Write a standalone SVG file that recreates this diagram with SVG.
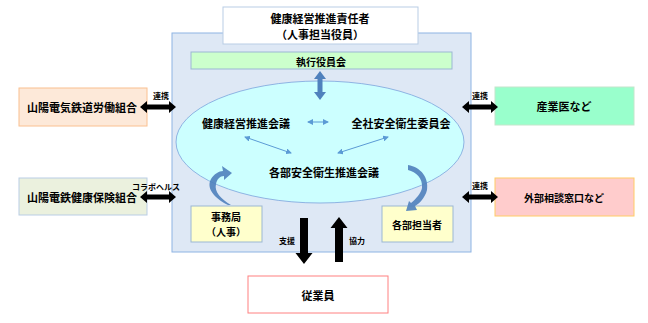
<svg xmlns="http://www.w3.org/2000/svg" width="648" height="323" viewBox="0 0 648 323">
<defs>
<style>
text{font-family:"Noto Sans CJK JP","Noto Sans",sans-serif;fill:#000;text-anchor:middle;dominant-baseline:central}
.b{font-size:11px;font-weight:bold}
.s{font-size:8px;font-weight:bold}
.m{font-size:10px;font-weight:bold}
.thin{stroke:#5b9bd5;stroke-width:1;fill:none}
</style>
<marker id="ah" markerWidth="6" markerHeight="6" refX="5" refY="3" orient="auto-start-reverse" markerUnits="userSpaceOnUse">
<path d="M0,0 L6,3 L0,6 Z" fill="#5b9bd5"/>
</marker>
</defs>
<rect width="648" height="323" fill="#fff"/>
<g id="main">
<rect x="172" y="33" width="299" height="219" fill="#dee8f5" stroke="#8eb4e3" stroke-width="1"/>
</g>
<g id="top">
<rect x="223" y="7" width="195" height="37" fill="#fff" stroke="#b9cde5"/>
<text class="b" x="320" y="17.5">健康経営推進責任者</text>
<text class="b" x="320" y="33.5">（人事担当役員）</text>
</g>
<g id="exec">
<rect x="191" y="52" width="261" height="17" fill="#ccffcc" stroke="#9bb7d4"/>
<text class="m" x="321" y="61">執行役員会</text>
</g>
<g id="council">
<ellipse cx="320" cy="142" rx="144" ry="61" fill="#ccffff" stroke="#8eb4e3"/>
<text class="b" x="246" y="123">健康経営推進会議</text>
<text class="b" x="401" y="123">全社安全衛生委員会</text>
<text class="b" x="324" y="172">各部安全衛生推進会議</text>
</g>
<g id="jimu">
<rect x="191" y="206" width="71" height="36" fill="#ffffcc" stroke="#9bb7d4"/>
<text class="m" x="226" y="216.5">事務局</text>
<text class="m" x="226" y="231.5">（人事）</text>
</g>
<g id="kakubu">
<rect x="382" y="206" width="71" height="36" fill="#ffffcc" stroke="#9bb7d4"/>
<text class="m" x="417" y="224">各部担当者</text>
</g>
<g id="jugyoin">
<rect x="248" y="276" width="140" height="37" fill="#fff" stroke="#ff8080"/>
<text class="b" x="318" y="295">従業員</text>
</g>
<g id="union">
<rect x="19" y="88" width="128" height="38" fill="#fde9d9" stroke="#fac090"/>
<text class="b" x="82" y="107">山陽電気鉄道労働組合</text>
</g>
<g id="kenpo">
<rect x="19" y="178" width="128" height="37" fill="#ebf1de" stroke="#b9cde5"/>
<text class="b" x="82" y="197">山陽電鉄健康保険組合</text>
</g>
<g id="sangyoi">
<rect x="495" y="87" width="139" height="38" fill="#99ffcc" stroke="#c3e6cb"/>
<text class="b" x="564" y="106">産業医など</text>
</g>
<g id="gaibu">
<rect x="495" y="178" width="139" height="38" fill="#ffcccc" stroke="#ffcc66"/>
<text class="m" x="564" y="197">外部相談窓口など</text>
</g>
<g id="connectors">
<path d="M320,71 L326,79 L322.5,79 L322.5,92 L326,92 L320,100 L314,92 L317.5,92 L317.5,79 L314,79 Z" fill="#4f81bd"/>
<line class="thin" x1="308" y1="122" x2="328" y2="122" marker-start="url(#ah)" marker-end="url(#ah)"/>
<line class="thin" x1="245" y1="137" x2="291" y2="153" marker-start="url(#ah)" marker-end="url(#ah)"/>
<line class="thin" x1="388" y1="137" x2="338" y2="153" marker-start="url(#ah)" marker-end="url(#ah)"/>
<path d="M228,205 C218,200 205,190 211,179 C214,174 219,171 223,171 L222,166 L232,173 L224,180 L224,176 C220,176 217,179 216,184 C214,192 221,199 231,205 Z" fill="#4f81bd" opacity="0.9"/>
<path d="M408,165 C421,167 429,178 427,190 C425,198 419,204 415,206 L417,210 L406,211 L409,201 L411,203 C416,199 421,193 422,188 C423,178 416,172 408,170 Z" fill="#4f81bd" opacity="0.9"/>
<path d="M140,107 L147,101 L147,104.5 L169,104.5 L169,101 L176,107 L169,113 L169,109.5 L147,109.5 L147,113 Z" fill="#000"/>
<path d="M140,197 L147,191 L147,194.5 L169,194.5 L169,191 L176,197 L169,203 L169,199.5 L147,199.5 L147,203 Z" fill="#000"/>
<path d="M462,107 L469,101 L469,104.5 L491,104.5 L491,101 L498,107 L491,113 L491,109.5 L469,109.5 L469,113 Z" fill="#000"/>
<path d="M462,197 L469,191 L469,194.5 L491,194.5 L491,191 L498,197 L491,203 L491,199.5 L469,199.5 L469,203 Z" fill="#000"/>
<path d="M300,218 L308,218 L308,253 L312.5,253 L304,264 L295.5,253 L300,253 Z" fill="#000"/>
<path d="M335,262 L343,262 L343,228 L347.5,228 L339,217 L330.5,228 L335,228 Z" fill="#000"/>
<text class="s" x="161" y="95">連携</text>
<text class="s" x="156" y="186">コラボヘルス</text>
<text class="s" x="480" y="95">連携</text>
<text class="s" x="480" y="185">連携</text>
<text class="s" x="287" y="240">支援</text>
<text class="s" x="357" y="240">協力</text>
</g>
</svg>
